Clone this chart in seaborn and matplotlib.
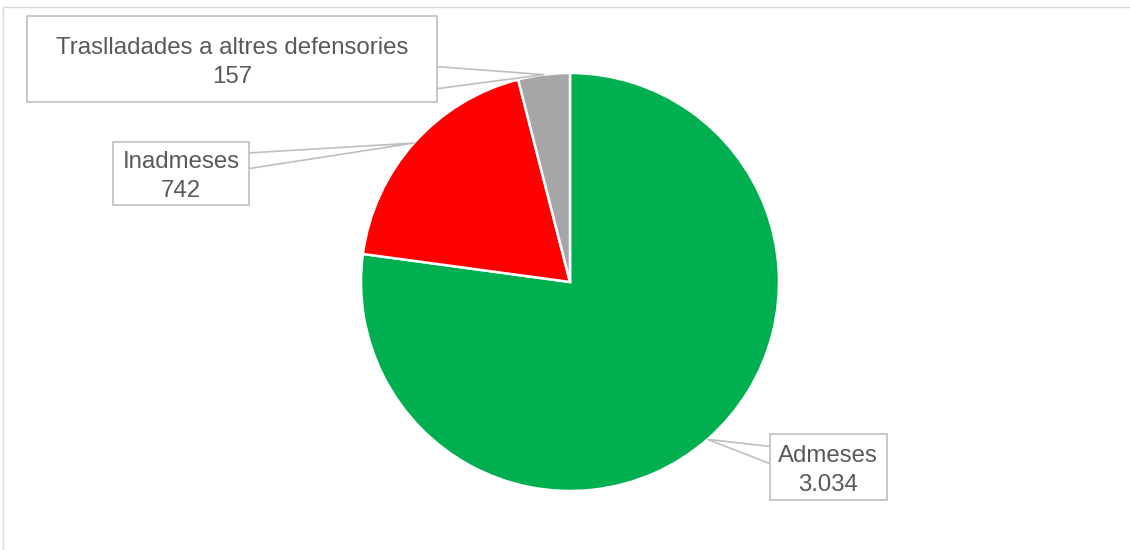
import numpy as np
import matplotlib
matplotlib.use("Agg")
import matplotlib.pyplot as plt
from matplotlib.patches import Rectangle
import seaborn as sns

# Data
label_names = ["Admeses", "Inadmeses", "Traslladades a altres defensories"]
values = [3034, 742, 157]
value_labels = ["3.034", "742", "157"]
colors = ["#00B050", "#FF0000", "#A6A6A6"]

sns.set_theme(style="white")
plt.rcParams['font.family'] = ['Liberation Sans', 'DejaVu Sans']

W, H = 1130, 550
CX, CY, R = 570, 282, 209  # pie centre / radius in pixels


def px(x, y):
    """pixel position (from top-left) -> data coords (pie radius = 1)"""
    return (x - CX) / R, (CY - y) / R


fig = plt.figure(figsize=(W / 100, H / 100), dpi=100)
ax = fig.add_axes([0, 0, 1, 1])

wedges, _ = ax.pie(values, colors=colors, startangle=90, counterclock=False,
                   radius=1.0, center=(0, 0),
                   wedgeprops=dict(edgecolor="white", linewidth=1.8))

# pie() resets the limits, so set them afterwards
ax.set_aspect("auto")
ax.set_xlim(-CX / R, (W - CX) / R)
ax.set_ylim(-(H - CY) / R, CY / R)
ax.set_axis_off()

# callout boxes: centre (px), size (px), pointer origin (px), pointer tail width
boxes = [
    dict(center=(828, 467), size=(117, 66), origin=(828, 469), tail=1.36),
    dict(center=(181, 173), size=(136, 63), origin=(181, 168), tail=0.93),
    dict(center=(232, 59), size=(410, 86), origin=(380, 79.2), tail=1.43),
]

for w, name, val, b in zip(wedges, label_names, value_labels, boxes):
    mid = np.deg2rad((w.theta1 + w.theta2) / 2)
    tip = (np.cos(mid) * 1.0, np.sin(mid) * 1.0)
    c = px(*b["center"])
    bw, bh = b["size"][0] / R, b["size"][1] / R

    ax.annotate("", xy=tip, xytext=px(*b["origin"]), zorder=3, annotation_clip=False,
                arrowprops=dict(arrowstyle=f"wedge,tail_width={b['tail']},shrink_factor=0.5",
                                fc="white", ec="#BFBFBF", lw=1.2,
                                shrinkA=0, shrinkB=0, mutation_scale=17))
    ax.add_patch(Rectangle((c[0] - bw / 2, c[1] - bh / 2), bw, bh,
                           fc="white", ec="#BFBFBF", lw=1.2, zorder=4, clip_on=False))
    tx, ty = px(b["center"][0], b["center"][1] + 3.5)
    ax.text(tx, ty, f"{name}\n{val}", ha="center", va="center",
            fontsize=17.3, color="#595959", linespacing=1.38, zorder=5)

# light chart border
fig.patches.append(Rectangle((3 / W, -0.1), 1.2, 1 - 7 / H + 0.1,
                             transform=fig.transFigure, fill=False,
                             ec="#D9D9D9", lw=1.0))

fig.savefig("out.png", dpi=100, facecolor="white")
